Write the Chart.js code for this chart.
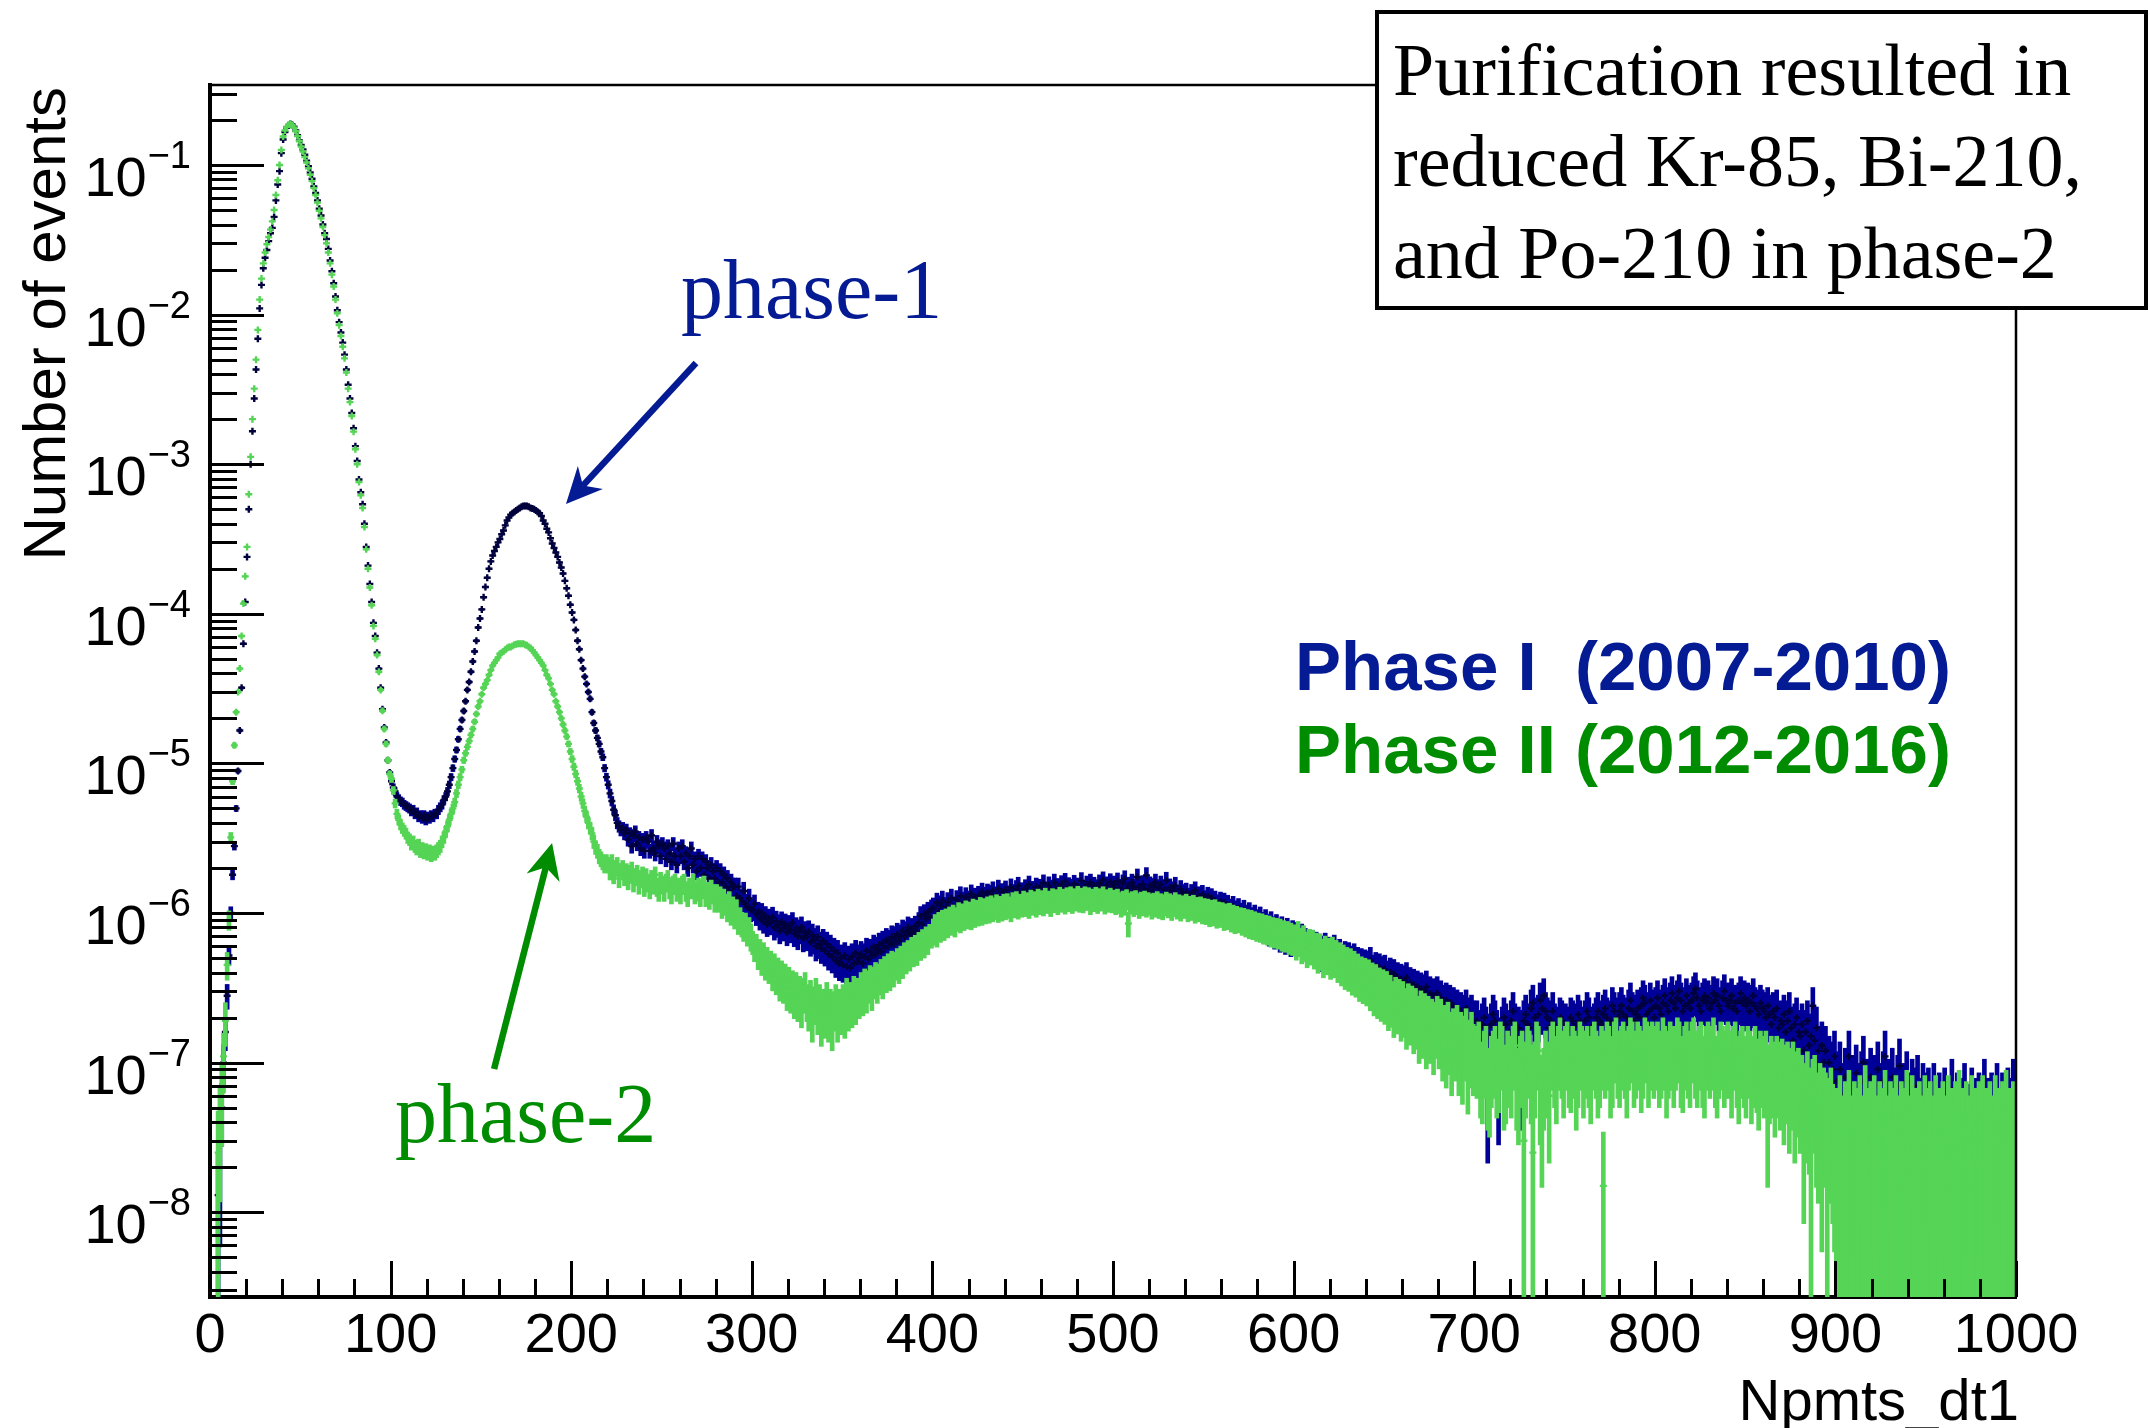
<!DOCTYPE html>
<html>
<head>
<meta charset="utf-8">
<title>Npmts_dt1 spectrum: Phase I vs Phase II</title>
<script src="https://cdn.jsdelivr.net/npm/chart.js@4.4.1/dist/chart.umd.min.js"></script>
<style>
  html, body { margin: 0; padding: 0; background: #ffffff; }
  canvas { display: block; }
</style>
</head>
<body>
<canvas id="spectrum" width="2150" height="1428"></canvas>
<script>
// Normalised Npmts_dt1 spectra, 1-unit bins: element k of block pN_BBB is bin [BBB+k, BBB+k+1)

// ---- Phase I (2007-2010) ----
const p1_000 = [0,0,0,0,1.3e-8,2.0e-8,5.0e-8,1.0e-7,1.6e-7,2.8e-7,
5.2e-7,1.0e-6,1.8e-6,2.8e-6,5.0e-6,8.9e-6,1.66e-5,3.2e-5,6.3e-5,1.2e-4,
2.4e-4,5.0e-4,1.0e-3,1.66e-3,2.75e-3,4.3e-3,6.9e-3,1.1e-2,1.58e-2,2.04e-2,
2.4e-2,2.7e-2,3.1e-2,3.5e-2,3.8e-2,4.5e-2,5.8e-2,7.4e-2,9.1e-2,1.2e-1,
1.48e-1,1.66e-1,1.78e-1,1.84e-1,1.88e-1,1.86e-1,1.8e-1,1.7e-1,1.58e-1,1.46e-1,
1.36e-1,1.27e-1,1.17e-1,1.07e-1,9.8e-2,8.9e-2,8.1e-2,7.2e-2,6.5e-2,5.8e-2,
5.1e-2,4.6e-2,4.0e-2,3.5e-2,3.2e-2,2.75e-2,2.3e-2,1.95e-2,1.62e-2,1.32e-2,
1.07e-2,8.9e-3,7.6e-3,6.5e-3,5.4e-3,4.3e-3,3.4e-3,2.75e-3,2.2e-3,1.74e-3,
1.32e-3,1.05e-3,7.9e-4,6.5e-4,5.4e-4,4.0e-4,2.8e-4,2.1e-4,1.58e-4,1.2e-4,
8.7e-5,7.1e-5,5.5e-5,4.3e-5,3.2e-5,2.3e-5,1.74e-5,1.38e-5,1.05e-5,8.7e-6];
const p1_100 = [7.6e-6,6.9e-6,6.5e-6,6.0e-6,5.8e-6,5.6e-6,5.5e-6,5.3e-6,5.2e-6,5.1e-6,
5.0e-6,4.8e-6,4.9e-6,4.6e-6,4.7e-6,4.4e-6,4.5e-6,4.3e-6,4.5e-6,4.2e-6,
4.4e-6,4.3e-6,4.5e-6,4.4e-6,4.6e-6,4.6e-6,4.9e-6,5.1e-6,5.3e-6,5.7e-6,
6.0e-6,6.5e-6,7.2e-6,8.1e-6,9.3e-6,1.07e-5,1.23e-5,1.45e-5,1.7e-5,1.95e-5,
2.24e-5,2.6e-5,3.1e-5,3.5e-5,4.1e-5,4.8e-5,5.6e-5,6.6e-5,8.1e-5,9.3e-5,
1.07e-4,1.29e-4,1.51e-4,1.74e-4,2.0e-4,2.24e-4,2.45e-4,2.63e-4,2.8e-4,3.0e-4,
3.16e-4,3.4e-4,3.6e-4,3.9e-4,4.2e-4,4.4e-4,4.6e-4,4.7e-4,4.8e-4,4.9e-4,
5.0e-4,5.1e-4,5.2e-4,5.25e-4,5.25e-4,5.25e-4,5.2e-4,5.1e-4,5.05e-4,5.0e-4,
4.9e-4,4.8e-4,4.7e-4,4.5e-4,4.2e-4,4.0e-4,3.7e-4,3.5e-4,3.2e-4,2.95e-4,
2.75e-4,2.57e-4,2.4e-4,2.2e-4,2.04e-4,1.86e-4,1.66e-4,1.48e-4,1.32e-4,1.15e-4];
const p1_200 = [1.02e-4,9.1e-5,7.8e-5,6.6e-5,5.8e-5,4.9e-5,4.3e-5,3.8e-5,3.4e-5,3.0e-5,
2.7e-5,2.2e-5,1.86e-5,1.66e-5,1.48e-5,1.35e-5,1.2e-5,1.1e-5,9.3e-6,8.1e-6,
7.2e-6,6.3e-6,5.6e-6,4.9e-6,4.5e-6,4.0e-6,3.8e-6,3.6e-6,3.7e-6,3.4e-6,
3.6e-6,3.1e-6,3.4e-6,2.8e-6,3.3e-6,3.5e-6,2.9e-6,3.2e-6,2.7e-6,3.1e-6,
2.6e-6,3.2e-6,3.0e-6,2.6e-6,3.3e-6,2.7e-6,2.5e-6,3.0e-6,2.8e-6,2.4e-6,
2.9e-6,2.7e-6,2.3e-6,2.8e-6,2.5e-6,2.2e-6,2.9e-6,2.4e-6,2.1e-6,2.7e-6,
2.4e-6,2.8e-6,2.2e-6,2.5e-6,2.0e-6,2.4e-6,2.7e-6,2.1e-6,2.3e-6,1.9e-6,
2.4e-6,2.0e-6,2.3e-6,1.8e-6,2.2e-6,2.0e-6,1.7e-6,2.1e-6,1.9e-6,1.7e-6,
2.0e-6,1.6e-6,1.9e-6,1.6e-6,1.8e-6,1.5e-6,1.7e-6,1.4e-6,1.6e-6,1.5e-6,
1.5e-6,1.3e-6,1.5e-6,1.25e-6,1.2e-6,1.4e-6,1.15e-6,1.1e-6,1.25e-6,1.05e-6];
const p1_300 = [1.05e-6,1.15e-6,9.8e-7,1.02e-6,9.2e-7,1.0e-6,8.8e-7,9.5e-7,8.4e-7,9.1e-7,
8.6e-7,9.4e-7,8.0e-7,8.8e-7,8.3e-7,7.6e-7,8.7e-7,7.9e-7,8.4e-7,7.4e-7,
8.2e-7,7.7e-7,8.6e-7,7.3e-7,7.9e-7,7.0e-7,7.6e-7,8.0e-7,6.8e-7,7.4e-7,
6.9e-7,7.5e-7,6.4e-7,7.1e-7,6.6e-7,6.0e-7,6.9e-7,6.2e-7,5.8e-7,6.5e-7,
5.6e-7,6.2e-7,5.3e-7,5.9e-7,5.1e-7,5.6e-7,4.8e-7,5.4e-7,4.6e-7,5.0e-7,
4.5e-7,5.2e-7,4.4e-7,4.9e-7,4.3e-7,5.1e-7,4.6e-7,5.4e-7,4.7e-7,5.0e-7,
5.3e-7,4.6e-7,5.1e-7,5.6e-7,4.9e-7,5.5e-7,5.2e-7,5.9e-7,5.3e-7,5.7e-7,
6.1e-7,5.5e-7,6.3e-7,5.8e-7,6.6e-7,6.0e-7,6.4e-7,6.9e-7,6.2e-7,6.8e-7,
7.2e-7,6.5e-7,7.0e-7,7.6e-7,6.9e-7,7.4e-7,8.0e-7,7.2e-7,7.8e-7,7.3e-7,
8.1e-7,7.5e-7,8.6e-7,9.5e-7,8.4e-7,9.8e-7,9.1e-7,1.02e-6,9.4e-7,1.06e-6];
const p1_400 = [1.08e-6,9.4e-7,1.17e-6,1.02e-6,1.12e-6,1.21e-6,9.8e-7,1.09e-6,1.18e-6,1.03e-6,
1.25e-6,1.1e-6,1.04e-6,1.22e-6,1.14e-6,1.3e-6,1.07e-6,1.19e-6,1.28e-6,1.12e-6,
1.21e-6,1.34e-6,1.15e-6,1.27e-6,1.1e-6,1.31e-6,1.23e-6,1.38e-6,1.17e-6,1.29e-6,
1.36e-6,1.2e-6,1.33e-6,1.41e-6,1.24e-6,1.3e-6,1.45e-6,1.22e-6,1.37e-6,1.28e-6,
1.43e-6,1.32e-6,1.25e-6,1.48e-6,1.35e-6,1.29e-6,1.44e-6,1.52e-6,1.31e-6,1.39e-6,
1.27e-6,1.46e-6,1.36e-6,1.55e-6,1.33e-6,1.42e-6,1.3e-6,1.5e-6,1.38e-6,1.47e-6,
1.34e-6,1.58e-6,1.41e-6,1.32e-6,1.53e-6,1.45e-6,1.37e-6,1.6e-6,1.4e-6,1.49e-6,
1.35e-6,1.56e-6,1.44e-6,1.62e-6,1.38e-6,1.51e-6,1.33e-6,1.47e-6,1.57e-6,1.42e-6,
1.5e-6,1.36e-6,1.64e-6,1.45e-6,1.39e-6,1.55e-6,1.43e-6,1.6e-6,1.37e-6,1.52e-6,
1.46e-6,1.34e-6,1.58e-6,1.49e-6,1.66e-6,1.41e-6,1.53e-6,1.38e-6,1.61e-6,1.47e-6];
const p1_500 = [1.55e-6,1.4e-6,1.63e-6,1.47e-6,1.36e-6,1.58e-6,1.69e-6,1.44e-6,1.52e-6,1.35e-6,
1.6e-6,1.48e-6,1.42e-6,1.74e-6,1.5e-6,1.38e-6,1.56e-6,1.45e-6,1.78e-6,1.41e-6,
1.53e-6,1.37e-6,1.49e-6,1.6e-6,1.33e-6,1.46e-6,1.55e-6,1.3e-6,1.43e-6,1.65e-6,
1.36e-6,1.48e-6,1.28e-6,1.41e-6,1.52e-6,1.32e-6,1.25e-6,1.44e-6,1.35e-6,1.22e-6,
1.38e-6,1.27e-6,1.19e-6,1.35e-6,1.24e-6,1.41e-6,1.2e-6,1.3e-6,1.15e-6,1.33e-6,
1.22e-6,1.12e-6,1.29e-6,1.18e-6,1.26e-6,1.08e-6,1.21e-6,1.14e-6,1.04e-6,1.19e-6,
1.1e-6,1.17e-6,1.01e-6,1.13e-6,1.06e-6,9.7e-7,1.11e-6,1.03e-6,9.4e-7,1.07e-6,
9.9e-7,9.1e-7,1.04e-6,9.6e-7,8.7e-7,1.0e-6,9.2e-7,8.4e-7,9.6e-7,8.9e-7,
8.1e-7,9.3e-7,8.5e-7,7.8e-7,8.9e-7,8.2e-7,7.5e-7,8.6e-7,7.9e-7,7.2e-7,
8.2e-7,7.6e-7,6.9e-7,7.9e-7,7.3e-7,6.7e-7,7.7e-7,7.0e-7,6.5e-7,7.4e-7];
const p1_600 = [6.9e-7,7.3e-7,6.4e-7,6.8e-7,7.1e-7,6.2e-7,6.6e-7,5.9e-7,6.5e-7,6.1e-7,
6.4e-7,5.8e-7,6.2e-7,5.5e-7,6.0e-7,5.2e-7,5.8e-7,6.1e-7,5.4e-7,5.7e-7,
5.1e-7,5.6e-7,5.9e-7,5.3e-7,4.9e-7,5.5e-7,5.0e-7,4.7e-7,5.3e-7,4.9e-7,
5.2e-7,4.6e-7,4.9e-7,5.1e-7,4.5e-7,4.8e-7,4.2e-7,4.7e-7,4.4e-7,4.6e-7,
4.1e-7,4.5e-7,4.8e-7,4.2e-7,3.9e-7,4.4e-7,4.0e-7,4.3e-7,3.7e-7,4.1e-7,
4.2e-7,3.8e-7,3.5e-7,4.0e-7,3.6e-7,3.9e-7,3.3e-7,3.7e-7,3.4e-7,3.6e-7,
3.2e-7,3.5e-7,3.7e-7,3.1e-7,3.4e-7,2.9e-7,3.3e-7,3.0e-7,3.2e-7,2.8e-7,
3.1e-7,2.7e-7,3.0e-7,3.2e-7,2.6e-7,2.9e-7,2.5e-7,2.8e-7,2.6e-7,2.9e-7,
2.4e-7,2.7e-7,2.5e-7,2.2e-7,2.6e-7,2.3e-7,2.5e-7,2.1e-7,2.4e-7,2.2e-7,
2.3e-7,2.0e-7,2.2e-7,1.9e-7,2.1e-7,2.3e-7,1.8e-7,2.0e-7,2.1e-7,1.9e-7];
const p1_700 = [1.7e-7,1.9e-7,1.6e-7,1.4e-7,1.8e-7,2.0e-7,1.7e-7,6.0e-8,1.5e-7,1.8e-7,
2.1e-7,1.9e-7,1.6e-7,7.0e-8,1.4e-7,1.7e-7,2.0e-7,1.8e-7,1.5e-7,1.6e-7,
1.9e-7,2.2e-7,1.8e-7,1.5e-7,1.7e-7,8.0e-8,1.6e-7,1.9e-7,2.1e-7,1.8e-7,
1.7e-7,2.3e-7,2.5e-7,2.0e-7,1.8e-7,2.1e-7,2.6e-7,2.3e-7,2.8e-7,2.2e-7,
2.0e-7,1.7e-7,1.9e-7,2.2e-7,1.8e-7,1.5e-7,1.7e-7,2.0e-7,1.9e-7,1.6e-7,
1.8e-7,1.4e-7,1.7e-7,2.0e-7,1.9e-7,1.6e-7,1.8e-7,2.1e-7,1.9e-7,1.7e-7,
1.6e-7,1.9e-7,2.2e-7,2.0e-7,1.7e-7,1.5e-7,1.8e-7,2.0e-7,2.2e-7,1.9e-7,
1.8e-7,2.1e-7,2.3e-7,2.0e-7,1.7e-7,1.9e-7,2.4e-7,2.2e-7,1.9e-7,2.0e-7,
2.2e-7,2.4e-7,2.1e-7,1.8e-7,2.0e-7,2.3e-7,2.6e-7,2.2e-7,1.9e-7,2.1e-7,
2.3e-7,2.0e-7,2.4e-7,2.7e-7,2.5e-7,2.1e-7,2.2e-7,2.6e-7,2.3e-7,2.0e-7];
const p1_800 = [2.4e-7,2.7e-7,2.3e-7,2.1e-7,2.5e-7,2.8e-7,2.4e-7,2.2e-7,2.6e-7,2.9e-7,
2.5e-7,2.3e-7,2.7e-7,3.0e-7,2.6e-7,2.2e-7,2.4e-7,2.8e-7,2.5e-7,2.3e-7,
2.6e-7,2.9e-7,3.1e-7,2.7e-7,2.4e-7,2.2e-7,2.6e-7,2.8e-7,2.5e-7,2.7e-7,
2.3e-7,2.5e-7,2.9e-7,2.6e-7,2.8e-7,2.4e-7,2.2e-7,2.7e-7,3.0e-7,2.6e-7,
2.4e-7,2.6e-7,2.8e-7,2.3e-7,2.5e-7,2.2e-7,2.6e-7,2.9e-7,2.5e-7,2.7e-7,
2.4e-7,2.6e-7,2.2e-7,2.5e-7,2.8e-7,2.4e-7,2.3e-7,2.1e-7,2.5e-7,2.3e-7,
2.2e-7,2.0e-7,2.4e-7,2.1e-7,1.8e-7,2.2e-7,2.0e-7,2.3e-7,1.7e-7,1.9e-7,
1.8e-7,2.1e-7,1.6e-7,1.9e-7,2.2e-7,1.7e-7,1.4e-7,1.8e-7,2.0e-7,1.6e-7,
1.5e-7,1.8e-7,1.2e-7,1.6e-7,1.9e-7,1.3e-7,1.5e-7,2.4e-7,1.4e-7,1.7e-7,
1.2e-7,9.0e-8,1.3e-7,1.0e-7,1.2e-7,8.0e-8,1.0e-7,7.0e-8,9.0e-8,1.1e-7];
const p1_900 = [7.5e-8,5.0e-8,9.0e-8,6.0e-8,4.0e-8,8.0e-8,6.5e-8,1.1e-7,5.5e-8,7.0e-8,
4.5e-8,8.5e-8,6.0e-8,3.5e-8,7.5e-8,1.0e-7,5.0e-8,6.5e-8,3.0e-8,8.0e-8,
5.5e-8,7.0e-8,4.0e-8,9.0e-8,6.0e-8,3.5e-8,7.5e-8,1.1e-7,5.0e-8,6.5e-8,
4.5e-8,8.0e-8,5.5e-8,3.0e-8,7.0e-8,9.5e-8,5.0e-8,6.0e-8,2.5e-8,7.5e-8,
5.0e-8,4.0e-8,6.5e-8,3.0e-8,5.5e-8,7.0e-8,4.5e-8,2.5e-8,6.0e-8,5.0e-8,
3.5e-8,5.5e-8,4.0e-8,2.5e-8,6.0e-8,4.5e-8,3.0e-8,5.0e-8,4.0e-8,2.0e-8,
5.5e-8,3.5e-8,4.5e-8,2.5e-8,6.5e-8,4.0e-8,3.0e-8,5.0e-8,3.5e-8,2.0e-8,
4.5e-8,6.0e-8,3.0e-8,4.0e-8,2.5e-8,5.5e-8,3.5e-8,4.5e-8,2.0e-8,5.0e-8,
3.0e-8,4.0e-8,6.5e-8,2.5e-8,4.5e-8,3.5e-8,5.0e-8,2.0e-8,4.0e-8,6.0e-8,
3.5e-8,2.5e-8,5.0e-8,4.0e-8,3.0e-8,5.5e-8,2.5e-8,4.5e-8,6.5e-8,4.0e-8];

// ---- Phase II (2012-2016) ----
const p2_000 = [0,0,0,0,2.5e-8,4.0e-8,6.3e-8,1.1e-7,1.9e-7,4.5e-7,
9.0e-7,3.2e-6,7.6e-6,1.32e-5,2.2e-5,3.0e-5,4.3e-5,7.1e-5,1.17e-4,1.78e-4,
2.8e-4,6.3e-4,1.12e-3,2.0e-3,3.2e-3,5.0e-3,7.9e-3,1.26e-2,1.74e-2,2.2e-2,
2.6e-2,2.95e-2,3.3e-2,3.7e-2,4.2e-2,5.0e-2,6.3e-2,7.9e-2,1.0e-1,1.26e-1,
1.55e-1,1.7e-1,1.8e-1,1.86e-1,1.88e-1,1.85e-1,1.78e-1,1.68e-1,1.56e-1,1.44e-1,
1.33e-1,1.23e-1,1.13e-1,1.04e-1,9.5e-2,8.6e-2,7.8e-2,7.0e-2,6.3e-2,5.6e-2,
4.95e-2,4.4e-2,3.85e-2,3.4e-2,3.0e-2,2.6e-2,2.2e-2,1.85e-2,1.54e-2,1.26e-2,
1.02e-2,8.5e-3,7.2e-3,6.1e-3,5.1e-3,4.1e-3,3.2e-3,2.6e-3,2.1e-3,1.65e-3,
1.26e-3,1.0e-3,7.6e-4,6.2e-4,5.1e-4,3.8e-4,2.7e-4,2.0e-4,1.5e-4,1.14e-4,
8.3e-5,6.8e-5,5.3e-5,4.1e-5,3.1e-5,2.25e-5,1.7e-5,1.35e-5,1.05e-5,8.5e-6];
const p2_100 = [7.9e-6,6.6e-6,5.4e-6,4.6e-6,4.2e-6,3.9e-6,3.7e-6,3.55e-6,3.4e-6,3.2e-6,
3.1e-6,2.9e-6,3.0e-6,2.8e-6,2.7e-6,2.85e-6,2.6e-6,2.7e-6,2.55e-6,2.65e-6,
2.5e-6,2.6e-6,2.45e-6,2.55e-6,2.5e-6,2.6e-6,2.7e-6,2.8e-6,3.0e-6,3.2e-6,
3.5e-6,3.8e-6,4.2e-6,4.6e-6,5.0e-6,5.5e-6,6.3e-6,7.2e-6,8.1e-6,9.1e-6,
1.05e-5,1.17e-5,1.29e-5,1.41e-5,1.55e-5,1.7e-5,1.9e-5,2.14e-5,2.4e-5,2.6e-5,
2.9e-5,3.2e-5,3.4e-5,3.6e-5,3.9e-5,4.2e-5,4.5e-5,4.7e-5,4.9e-5,5.1e-5,
5.4e-5,5.5e-5,5.6e-5,5.75e-5,5.9e-5,6.0e-5,6.0e-5,6.1e-5,6.2e-5,6.25e-5,
6.3e-5,6.3e-5,6.3e-5,6.3e-5,6.2e-5,6.15e-5,6.0e-5,5.9e-5,5.7e-5,5.5e-5,
5.3e-5,5.1e-5,4.9e-5,4.7e-5,4.5e-5,4.2e-5,3.9e-5,3.7e-5,3.4e-5,3.1e-5,
2.9e-5,2.6e-5,2.4e-5,2.2e-5,2.0e-5,1.82e-5,1.66e-5,1.51e-5,1.35e-5,1.2e-5];
const p2_200 = [1.07e-5,9.5e-6,8.5e-6,7.6e-6,6.8e-6,6.0e-6,5.4e-6,4.8e-6,4.4e-6,4.0e-6,
3.7e-6,3.4e-6,3.0e-6,2.75e-6,2.6e-6,2.4e-6,2.3e-6,2.2e-6,2.1e-6,2.2e-6,
2.1e-6,1.9e-6,2.2e-6,1.8e-6,2.0e-6,2.1e-6,1.7e-6,1.9e-6,2.0e-6,1.75e-6,
1.9e-6,1.65e-6,1.85e-6,1.95e-6,1.6e-6,1.75e-6,1.85e-6,1.55e-6,1.7e-6,1.8e-6,
1.5e-6,1.75e-6,1.6e-6,1.45e-6,1.7e-6,1.55e-6,1.8e-6,1.5e-6,1.4e-6,1.65e-6,
1.55e-6,1.4e-6,1.6e-6,1.7e-6,1.45e-6,1.35e-6,1.55e-6,1.6e-6,1.4e-6,1.5e-6,
1.35e-6,1.55e-6,1.6e-6,1.4e-6,1.3e-6,1.5e-6,1.45e-6,1.6e-6,1.35e-6,1.4e-6,
1.5e-6,1.3e-6,1.45e-6,1.55e-6,1.3e-6,1.4e-6,1.25e-6,1.45e-6,1.35e-6,1.2e-6,
1.35e-6,1.2e-6,1.3e-6,1.1e-6,1.25e-6,1.15e-6,1.05e-6,1.2e-6,1.0e-6,1.1e-6,
9.5e-7,1.05e-6,8.8e-7,9.2e-7,8.5e-7,8.0e-7,8.4e-7,7.5e-7,7.8e-7,7.0e-7];
const p2_300 = [6.4e-7,5.8e-7,6.1e-7,5.2e-7,5.6e-7,4.8e-7,5.3e-7,4.5e-7,4.9e-7,4.3e-7,
4.6e-7,3.9e-7,4.4e-7,3.7e-7,4.1e-7,3.4e-7,3.9e-7,3.3e-7,3.7e-7,3.0e-7,
3.5e-7,2.9e-7,3.3e-7,2.7e-7,3.2e-7,2.6e-7,3.0e-7,2.4e-7,2.9e-7,3.2e-7,
2.6e-7,2.3e-7,2.8e-7,2.0e-7,2.5e-7,2.9e-7,2.2e-7,2.6e-7,1.9e-7,2.4e-7,
2.1e-7,2.7e-7,2.0e-7,2.4e-7,1.8e-7,2.3e-7,2.6e-7,2.0e-7,2.4e-7,2.2e-7,
2.6e-7,2.1e-7,2.9e-7,2.3e-7,2.7e-7,2.4e-7,3.0e-7,2.5e-7,2.9e-7,2.7e-7,
3.2e-7,2.8e-7,3.4e-7,2.9e-7,3.3e-7,3.6e-7,3.0e-7,3.5e-7,3.8e-7,3.3e-7,
3.7e-7,4.0e-7,3.5e-7,4.2e-7,3.8e-7,4.4e-7,3.9e-7,4.6e-7,4.1e-7,4.5e-7,
4.8e-7,4.3e-7,5.0e-7,4.6e-7,5.3e-7,4.9e-7,5.5e-7,5.1e-7,5.8e-7,5.4e-7,
6.0e-7,5.5e-7,6.3e-7,5.9e-7,6.6e-7,6.1e-7,6.9e-7,6.4e-7,7.2e-7,7.0e-7];
const p2_400 = [7.6e-7,8.2e-7,7.4e-7,8.5e-7,7.9e-7,8.8e-7,8.1e-7,9.0e-7,8.4e-7,9.3e-7,
8.7e-7,9.6e-7,8.5e-7,9.2e-7,1.0e-6,9.0e-7,9.8e-7,9.3e-7,1.03e-6,9.5e-7,
1.01e-6,9.4e-7,1.06e-6,9.7e-7,1.04e-6,9.9e-7,1.09e-6,1.0e-6,1.07e-6,1.02e-6,
1.1e-6,1.03e-6,1.12e-6,1.05e-6,1.08e-6,1.14e-6,1.04e-6,1.11e-6,1.06e-6,1.15e-6,
1.08e-6,1.16e-6,1.1e-6,1.05e-6,1.18e-6,1.11e-6,1.2e-6,1.09e-6,1.15e-6,1.12e-6,
1.21e-6,1.13e-6,1.18e-6,1.1e-6,1.23e-6,1.15e-6,1.2e-6,1.12e-6,1.25e-6,1.16e-6,
1.22e-6,1.14e-6,1.27e-6,1.18e-6,1.21e-6,1.13e-6,1.26e-6,1.19e-6,1.24e-6,1.16e-6,
1.29e-6,1.2e-6,1.25e-6,1.17e-6,1.28e-6,1.21e-6,1.3e-6,1.18e-6,1.26e-6,1.22e-6,
1.31e-6,1.2e-6,1.27e-6,1.19e-6,1.3e-6,1.23e-6,1.28e-6,1.16e-6,1.25e-6,1.21e-6,
1.29e-6,1.18e-6,1.26e-6,1.22e-6,1.3e-6,1.17e-6,1.24e-6,1.2e-6,1.27e-6,1.19e-6];
const p2_500 = [1.23e-6,1.16e-6,1.25e-6,1.18e-6,1.12e-6,1.21e-6,1.15e-6,1.24e-6,8.5e-7,1.17e-6,
1.2e-6,1.13e-6,1.22e-6,1.16e-6,1.1e-6,1.19e-6,1.14e-6,1.21e-6,1.12e-6,1.18e-6,
1.15e-6,1.09e-6,1.17e-6,1.12e-6,1.2e-6,1.1e-6,1.16e-6,1.08e-6,1.14e-6,1.19e-6,
1.11e-6,1.16e-6,1.07e-6,1.13e-6,1.18e-6,1.09e-6,1.14e-6,1.06e-6,1.12e-6,1.1e-6,
1.15e-6,1.05e-6,1.11e-6,1.07e-6,1.13e-6,1.03e-6,1.09e-6,1.05e-6,1.1e-6,1.02e-6,
1.07e-6,1.01e-6,1.06e-6,9.8e-7,1.04e-6,9.9e-7,1.05e-6,9.6e-7,1.01e-6,9.7e-7,
1.0e-6,9.3e-7,9.8e-7,9.4e-7,9.9e-7,9.1e-7,9.6e-7,8.9e-7,9.4e-7,9.0e-7,
9.2e-7,8.7e-7,9.1e-7,8.5e-7,8.9e-7,8.3e-7,8.8e-7,8.2e-7,8.6e-7,8.0e-7,
8.4e-7,7.9e-7,8.3e-7,7.7e-7,8.1e-7,7.6e-7,8.0e-7,7.4e-7,7.8e-7,7.3e-7,
7.7e-7,7.2e-7,7.6e-7,7.0e-7,7.4e-7,6.9e-7,7.3e-7,6.7e-7,7.1e-7,6.6e-7];
const p2_600 = [6.9e-7,6.2e-7,7.3e-7,6.5e-7,5.9e-7,6.8e-7,6.1e-7,5.6e-7,6.4e-7,5.8e-7,
6.3e-7,5.5e-7,6.0e-7,5.2e-7,5.9e-7,5.4e-7,4.9e-7,5.7e-7,5.1e-7,5.5e-7,
4.8e-7,5.6e-7,4.9e-7,5.3e-7,4.6e-7,5.1e-7,4.4e-7,4.9e-7,4.2e-7,4.7e-7,
4.1e-7,4.6e-7,3.9e-7,4.4e-7,3.8e-7,4.2e-7,3.6e-7,4.0e-7,3.5e-7,3.9e-7,
3.4e-7,3.8e-7,3.2e-7,3.6e-7,3.0e-7,3.5e-7,2.9e-7,3.3e-7,2.8e-7,3.2e-7,
2.7e-7,3.1e-7,2.5e-7,2.9e-7,2.6e-7,2.3e-7,2.8e-7,2.4e-7,2.7e-7,2.2e-7,
2.6e-7,2.3e-7,2.0e-7,2.5e-7,2.1e-7,2.4e-7,1.9e-7,2.3e-7,2.0e-7,1.7e-7,
2.2e-7,1.8e-7,2.1e-7,1.6e-7,2.0e-7,1.7e-7,1.9e-7,1.5e-7,1.8e-7,2.0e-7,
1.6e-7,1.9e-7,1.4e-7,1.7e-7,1.3e-7,1.8e-7,1.5e-7,1.2e-7,1.6e-7,1.4e-7,
1.7e-7,1.2e-7,1.5e-7,1.1e-7,1.4e-7,1.6e-7,1.0e-7,1.3e-7,1.5e-7,1.2e-7];
const p2_700 = [1.2e-7,1.1e-7,1.3e-7,9.0e-8,8.5e-8,1.1e-7,1.2e-7,8.0e-8,7.5e-8,1.0e-7,
1.1e-7,1.2e-7,9.0e-8,9.5e-8,1.3e-7,1.2e-7,8.0e-8,8.5e-8,1.1e-7,1.0e-7,
9.0e-8,1.2e-7,1.3e-7,8.0e-8,7.0e-8,1.0e-7,1.1e-7,3.0e-8,9.0e-8,1.2e-7,
1.1e-7,8.5e-8,2.5e-8,9.0e-8,1.3e-7,1.2e-7,7.0e-8,5.0e-8,8.0e-8,1.1e-7,
9.0e-8,6.0e-8,1.2e-7,1.3e-7,1.0e-7,8.5e-8,1.2e-7,1.4e-7,1.1e-7,9.0e-8,
1.2e-7,1.3e-7,1.0e-7,9.5e-8,1.2e-7,1.1e-7,8.0e-8,1.0e-7,1.3e-7,1.2e-7,
9.0e-8,1.1e-7,1.2e-7,1.0e-7,8.5e-8,1.2e-7,1.3e-7,1.1e-7,9.0e-8,1.0e-7,
1.2e-7,1.5e-8,1.1e-7,1.3e-7,1.2e-7,9.0e-8,1.0e-7,1.3e-7,1.4e-7,1.1e-7,
1.0e-7,1.2e-7,1.3e-7,1.1e-7,9.0e-8,1.2e-7,1.4e-7,1.3e-7,1.0e-7,1.1e-7,
1.3e-7,1.2e-7,9.5e-8,1.1e-7,1.4e-7,1.3e-7,1.0e-7,1.2e-7,1.3e-7,1.1e-7];
const p2_800 = [1.2e-7,1.3e-7,1.0e-7,1.1e-7,1.4e-7,1.2e-7,9.0e-8,1.1e-7,1.3e-7,1.2e-7,
1.0e-7,1.2e-7,1.4e-7,1.3e-7,1.0e-7,9.5e-8,1.2e-7,1.3e-7,1.1e-7,1.0e-7,
1.3e-7,1.4e-7,1.1e-7,1.0e-7,1.2e-7,1.3e-7,1.0e-7,9.0e-8,1.2e-7,1.3e-7,
1.1e-7,1.2e-7,1.4e-7,1.0e-7,9.0e-8,1.1e-7,1.3e-7,1.2e-7,1.0e-7,1.1e-7,
1.3e-7,1.1e-7,9.0e-8,1.2e-7,1.3e-7,1.0e-7,8.5e-8,1.1e-7,1.2e-7,1.0e-7,
9.0e-8,1.2e-7,1.1e-7,8.5e-8,1.0e-7,1.2e-7,9.5e-8,8.0e-8,1.1e-7,1.0e-7,
9.0e-8,1.1e-7,5.0e-8,8.5e-8,1.0e-7,9.0e-8,7.5e-8,1.0e-7,9.0e-8,8.0e-8,
9.5e-8,7.0e-8,8.5e-8,9.0e-8,6.5e-8,8.0e-8,9.0e-8,6.0e-8,7.5e-8,8.0e-8,
6.5e-8,7.0e-8,4.0e-8,6.0e-8,7.5e-8,5.5e-8,3.0e-8,6.5e-8,7.0e-8,5.0e-8,
4.5e-8,6.0e-8,3.5e-8,5.5e-8,5.0e-8,2.5e-8,4.5e-8,5.5e-8,4.0e-8,3.5e-8];
const p2_900 = [3.5e-8,2.0e-8,4.5e-8,3.0e-8,1.5e-8,4.0e-8,2.5e-8,5.0e-8,3.0e-8,2.0e-8,
4.0e-8,3.5e-8,1.5e-8,4.5e-8,2.5e-8,3.0e-8,5.5e-8,2.0e-8,3.5e-8,4.0e-8,
2.5e-8,4.5e-8,3.0e-8,1.5e-8,4.0e-8,3.5e-8,2.0e-8,5.0e-8,3.0e-8,2.5e-8,
4.0e-8,2.0e-8,3.5e-8,4.5e-8,1.5e-8,3.0e-8,4.0e-8,2.5e-8,3.5e-8,5.0e-8,
2.0e-8,3.0e-8,4.5e-8,2.5e-8,3.5e-8,1.5e-8,4.0e-8,3.0e-8,2.0e-8,4.5e-8,
3.5e-8,2.5e-8,4.0e-8,1.5e-8,3.0e-8,4.5e-8,2.0e-8,3.5e-8,2.5e-8,4.0e-8,
3.0e-8,1.5e-8,4.5e-8,2.5e-8,3.5e-8,2.0e-8,4.0e-8,3.0e-8,5.0e-8,2.5e-8,
3.5e-8,2.0e-8,4.0e-8,3.0e-8,1.5e-8,4.5e-8,2.5e-8,3.5e-8,2.0e-8,4.0e-8,
3.0e-8,4.5e-8,2.0e-8,3.5e-8,2.5e-8,4.0e-8,1.5e-8,3.0e-8,4.5e-8,2.5e-8,
3.5e-8,2.0e-8,4.0e-8,3.0e-8,5.0e-8,2.5e-8,3.5e-8,2.0e-8,4.0e-8,3.0e-8];

// Weight of a single event in each 100-bin block; the Poisson error of a bin is sqrt(value * weight)
const p1EventWeight = [1e-8, 2.5e-8, 3e-8, 2.5e-8, 3e-8, 3e-8, 2.5e-8, 2.5e-8, 2.5e-8, 2.5e-8];
const p2EventWeight = [2e-8, 2.5e-8, 3e-8, 2e-8, 3e-8, 3e-8, 3e-8, 2.5e-8, 2.5e-8, 3e-8];

// Axis ranges and labels
const X_MIN = 0, X_MAX = 1000;
const Y_MIN = 2.71e-9, Y_MAX = 0.3426;
const yLabelExponents = [-8, -7, -6, -5, -4, -3, -2, -1];
const xTitle = 'Npmts_dt1';
const yTitle = 'Number of events';
const boxLines = ['Purification resulted in', 'reduced Kr-85, Bi-210,', 'and Po-210 in phase-2'];
const legendLines = ['Phase I  (2007-2010)', 'Phase II (2012-2016)'];

// Annotation anchors, in data coordinates
const arrowPhase1 = { from: [269.1, 4.75e-3], to: [197.1, 5.42e-4] };
const arrowPhase2 = { from: [157.3, 9.06e-8], to: [189.4, 2.94e-6] };
const labelPhase1 = { text: 'phase-1', at: [260.8, 9.49e-3] };
const labelPhase2 = { text: 'phase-2', at: [102.4, 2.94e-8] };
const legendAnchor = [600.8, 3.1e-5, 8.63e-6];

const BLUE_DATA = '#000099', BLUE_MARK = '#00003c', BLUE_TEXT = '#041b93';
const GREEN_DATA = '#55d455', GREEN_TEXT = '#008c00';
const SANS = '"Liberation Sans", Arial, Helvetica, sans-serif';
const SERIF = '"Liberation Serif", "Times New Roman", Times, serif';

const phase1 = [].concat(p1_000, p1_100, p1_200, p1_300, p1_400, p1_500, p1_600, p1_700, p1_800, p1_900);
const phase2 = [].concat(p2_000, p2_100, p2_200, p2_300, p2_400, p2_500, p2_600, p2_700, p2_800, p2_900);

function markerPoints(values) {
  const pts = [];
  values.forEach((v, i) => { if (v > 0) pts.push({ x: i + 0.5, y: v }); });
  return pts;
}
function errorBars(values, weights) {
  const bars = [];
  values.forEach((v, i) => {
    if (!(v > 0)) return;
    const s = Math.sqrt(v * weights[Math.floor(i / 100)]);
    const lo = v - s > 0 ? v - s : Y_MIN * 1e-3;
    bars.push({ x: i + 0.5, y: [lo, v + s] });
  });
  return bars;
}

function drawArrow(ctx, x0, y0, x1, y1, color, lw) {
  const dx = x1 - x0, dy = y1 - y0, L = Math.hypot(dx, dy);
  const ux = dx / L, uy = dy / L, px = -uy, py = ux;
  const headLen = 36, headHalf = 17, notch = 25;
  ctx.strokeStyle = color; ctx.fillStyle = color; ctx.lineWidth = lw; ctx.lineCap = 'butt';
  ctx.beginPath(); ctx.moveTo(x0, y0); ctx.lineTo(x1 - ux * notch, y1 - uy * notch); ctx.stroke();
  ctx.beginPath();
  ctx.moveTo(x1, y1);
  ctx.lineTo(x1 - ux * headLen + px * headHalf, y1 - uy * headLen + py * headHalf);
  ctx.lineTo(x1 - ux * notch, y1 - uy * notch);
  ctx.lineTo(x1 - ux * headLen - px * headHalf, y1 - uy * headLen - py * headHalf);
  ctx.closePath(); ctx.fill();
}

// Frame, inward ticks, power-of-ten labels, titles and annotations
const rootDecorations = {
  id: 'rootDecorations',
  afterDraw(chart) {
    const { ctx, chartArea: a, scales: { x, y } } = chart;
    ctx.save();

    ctx.strokeStyle = '#000'; ctx.lineWidth = 2.5;
    ctx.beginPath(); ctx.moveTo(a.left, a.top); ctx.lineTo(a.right, a.top); ctx.lineTo(a.right, a.bottom); ctx.stroke();

    ctx.lineWidth = 3;
    ctx.beginPath();
    for (let v = X_MIN; v <= X_MAX; v += 20) {
      const px = Math.round(x.getPixelForValue(v)) + 0.5;
      const len = v % 100 === 0 ? 36 : 18;
      ctx.moveTo(px, a.bottom); ctx.lineTo(px, a.bottom - len);
    }
    for (let e = -9; e <= 0; e++) {
      for (let m = 1; m <= 9; m++) {
        const v = m * Math.pow(10, e);
        if (v < Y_MIN || v > Y_MAX) continue;
        const py = Math.round(y.getPixelForValue(v)) + 0.5;
        ctx.moveTo(a.left, py); ctx.lineTo(a.left + (m === 1 ? 54 : 27), py);
      }
    }
    ctx.stroke();

    // y labels: 10 with a raised exponent
    ctx.fillStyle = '#000'; ctx.textAlign = 'left'; ctx.textBaseline = 'alphabetic';
    const mainFont = '56px ' + SANS, supFont = '38px ' + SANS;
    yLabelExponents.forEach(e => {
      const py = y.getPixelForValue(Math.pow(10, e));
      const sup = '\u2212' + Math.abs(e);
      ctx.font = mainFont; const wb = ctx.measureText('10').width;
      ctx.font = supFont; const ws = ctx.measureText(sup).width;
      const x0 = a.left - 20 - wb - ws;
      ctx.font = mainFont; ctx.fillText('10', x0, py + 31);
      ctx.font = supFont; ctx.fillText(sup, x0 + wb + 1, py + 3);
    });

    // axis titles
    ctx.font = '58px ' + SANS; ctx.textAlign = 'right';
    ctx.fillText(xTitle, a.right + 3, 1420);
    ctx.save();
    ctx.translate(65, a.top + 2); ctx.rotate(-Math.PI / 2);
    ctx.font = '60px ' + SANS; ctx.textAlign = 'right';
    ctx.fillText(yTitle, 0, 0);
    ctx.restore();

    // arrows and phase labels
    drawArrow(ctx, x.getPixelForValue(arrowPhase1.from[0]), y.getPixelForValue(arrowPhase1.from[1]),
      x.getPixelForValue(arrowPhase1.to[0]), y.getPixelForValue(arrowPhase1.to[1]), BLUE_TEXT, 6.5);
    drawArrow(ctx, x.getPixelForValue(arrowPhase2.from[0]), y.getPixelForValue(arrowPhase2.from[1]),
      x.getPixelForValue(arrowPhase2.to[0]), y.getPixelForValue(arrowPhase2.to[1]), GREEN_TEXT, 6.5);
    ctx.textAlign = 'left'; ctx.font = '84px ' + SERIF;
    ctx.fillStyle = BLUE_TEXT;
    ctx.fillText(labelPhase1.text, x.getPixelForValue(labelPhase1.at[0]), y.getPixelForValue(labelPhase1.at[1]));
    ctx.fillStyle = GREEN_TEXT;
    ctx.fillText(labelPhase2.text, x.getPixelForValue(labelPhase2.at[0]), y.getPixelForValue(labelPhase2.at[1]));

    // legend
    ctx.font = 'bold 69px ' + SANS;
    const lx = x.getPixelForValue(legendAnchor[0]);
    ctx.fillStyle = BLUE_TEXT; ctx.fillText(legendLines[0], lx, y.getPixelForValue(legendAnchor[1]));
    ctx.fillStyle = GREEN_TEXT; ctx.fillText(legendLines[1], lx, y.getPixelForValue(legendAnchor[2]));

    // comment box over the top-right corner
    ctx.fillStyle = '#fff'; ctx.fillRect(1377, 12, 769, 296);
    ctx.strokeStyle = '#000'; ctx.lineWidth = 4; ctx.strokeRect(1377, 12, 769, 296);
    ctx.fillStyle = '#000'; ctx.font = '74px ' + SERIF;
    [95, 186, 278].forEach((by, k) => ctx.fillText(boxLines[k], 1393, by));

    ctx.restore();
  }
};

new Chart(document.getElementById('spectrum'), {
  type: 'bar',
  data: {
    datasets: [
      { type: 'bar', label: 'Phase I errors', data: errorBars(phase1, p1EventWeight),
        backgroundColor: BLUE_DATA, borderWidth: 0, barThickness: 4, grouped: false, order: 4, clip: 0 },
      { type: 'line', label: 'Phase I', data: markerPoints(phase1), showLine: false,
        pointStyle: 'cross', pointRadius: 3.5, pointBorderWidth: 2.4, pointBorderColor: BLUE_MARK,
        pointBackgroundColor: BLUE_MARK, order: 3, clip: 0 },
      { type: 'bar', label: 'Phase II errors', data: errorBars(phase2, p2EventWeight),
        backgroundColor: GREEN_DATA, borderWidth: 0, barThickness: 4, grouped: false, order: 2, clip: 0 },
      { type: 'line', label: 'Phase II', data: markerPoints(phase2), showLine: false,
        pointStyle: 'cross', pointRadius: 3.5, pointBorderWidth: 2.4, pointBorderColor: GREEN_DATA,
        pointBackgroundColor: GREEN_DATA, order: 1, clip: 0 }
    ]
  },
  options: {
    responsive: false,
    animation: false,
    devicePixelRatio: 1,
    events: [],
    layout: { padding: { top: 85, right: 134, left: 0, bottom: 0 } },
    plugins: { legend: { display: false }, tooltip: { enabled: false }, title: { display: false } },
    scales: {
      x: {
        type: 'linear', min: X_MIN, max: X_MAX, offset: false, z: 1,
        grid: { display: false, drawTicks: false, offset: false },
        border: { display: true, color: '#000', width: 4 },
        ticks: { stepSize: 100, autoSkip: false, maxRotation: 0, padding: 6, color: '#000',
          font: { family: SANS, size: 56 }, callback: v => String(v) },
        afterFit: s => { s.height = 131; }
      },
      y: {
        type: 'logarithmic', min: Y_MIN, max: Y_MAX, beginAtZero: false, z: 1,
        grid: { display: false, drawTicks: false },
        border: { display: true, color: '#000', width: 4 },
        ticks: { display: false },
        afterFit: s => { s.width = 210; }
      }
    }
  },
  plugins: [rootDecorations]
});
</script>
</body>
</html>
